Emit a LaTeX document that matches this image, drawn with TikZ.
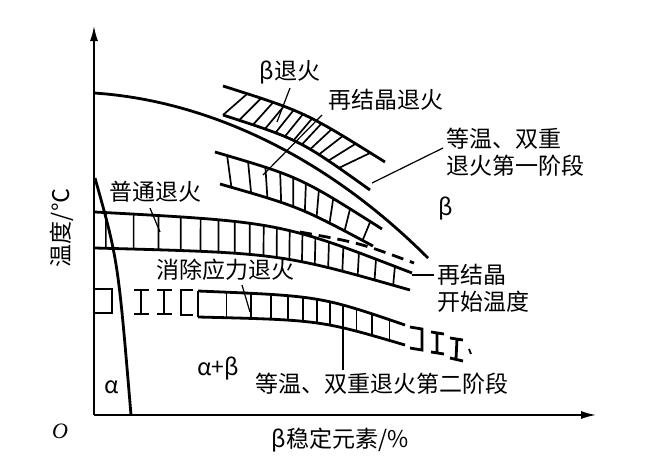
\documentclass[tikz,border=0pt]{standalone}
\usepackage{fontspec}
\setmainfont{Liberation Serif}
\newfontfamily\cjk{Noto Sans CJK SC}
\usetikzlibrary{arrows.meta}
\begin{document}
\begin{tikzpicture}[x=1pt,y=1pt,
  ln/.style={line width=2.8pt},
  tk/.style={line width=1.7pt},
  lab/.style={font=\cjk\fontsize{23}{27}\selectfont, inner sep=0pt},
  ld/.style={line width=1.2pt}]
\useasboundingbox (0,0) rectangle (666,-461);
% axes
\coordinate (O) at (94,-415);
\coordinate (Ytop) at (94,-26);
\coordinate (Xend) at (596,-415);
\draw[line width=1.5pt,-{Latex[length=15pt,width=8pt]}] (O) -- (Ytop);
\draw[line width=1.5pt,-{Latex[length=15pt,width=8pt]}] (O) -- (Xend);
% transus
\draw[ln] (94,-93) .. controls (200,-100) and (320,-150) .. (428,-258);
% alpha boundary
\draw[ln] (95,-178) .. controls (118,-260) .. (131,-415);
% hatched band
\draw[ln] (223,-86) .. controls (305,-112) .. (385,-162);
\draw[ln] (223,-115) .. controls (300,-140) .. (370,-190);
\foreach \t in {0.0,0.075,...,0.89}{
  \path (223,-115) .. controls (300,-140) .. (370,-190) coordinate[pos=\t] (hl);
  \pgfmathsetmacro\s{\t+0.11}
  \path (223,-86) .. controls (305,-112) .. (385,-162) coordinate[pos=\s] (hu);
  \draw[tk] (hl) -- (hu);}
% recrystallisation band
\draw[ln] (215,-152) .. controls (300,-177) .. (382,-229);
\draw[ln] (220,-184) .. controls (300,-207) .. (373,-246);
\foreach \t in {0.05,0.15,...,0.99}{
  \path (215,-152) .. controls (300,-177) .. (382,-229) coordinate[pos=\t] (ru);
  \path (220,-184) .. controls (300,-207) .. (373,-246) coordinate[pos=\t] (rl);
  \draw[tk] (ru) -- (rl);}
% ordinary annealing band
\draw[ln] (95,-212) .. controls (280,-222) .. (412,-273);
\draw[ln] (95,-248) .. controls (280,-253) .. (410,-290);
\foreach \t in {0.02,0.075,...,0.99}{
  \path (95,-212) .. controls (280,-222) .. (412,-273) coordinate[pos=\t] (pu);
  \path (95,-248) .. controls (280,-253) .. (410,-290) coordinate[pos=\t] (pl);
  \draw[tk] (pu) -- (pl);}
% dashed line
\draw[ln,dash pattern=on 12pt off 7pt] (300,-232) .. controls (360,-243) .. (414,-263);
% stress relief band
\draw[ln] (198,-291) .. controls (320,-296) .. (405,-325);
\draw[ln] (198,-317) .. controls (320,-320) .. (405,-345);
\foreach \t in {0,0.085,...,1.01}{
  \path (198,-291) .. controls (320,-296) .. (405,-325) coordinate[pos=\t] (su);
  \path (198,-317) .. controls (320,-320) .. (405,-345) coordinate[pos=\t] (sl);
  \draw[tk] (su) -- (sl);}
% broken left part
\draw[ln] (95,-289) -- (112,-289) -- (112,-313) -- (95,-313);
\draw[ln] (134,-290) -- (149,-290) (141,-290) -- (141,-314) (134,-314) -- (149,-314);
\draw[ln] (157,-290) -- (172,-290) (164,-290) -- (164,-314) (157,-314) -- (172,-314);
\draw[ln] (193,-290) -- (181,-290) -- (181,-315) -- (193,-315);
% broken right tail
\draw[ln] (410,-327) -- (422,-329) -- (422,-350) -- (410,-348);
\draw[ln] (431,-332) -- (444,-334) (437,-333) -- (437,-353) (431,-352) -- (444,-354);
\draw[ln] (450,-338) -- (463,-340) (457,-339) -- (456,-359) (450,-358) -- (463,-361);
\draw[line width=1.8pt] (469,-349) -- (471,-354);
% labels
\node[lab] (bA) at (290,-72) {β退火};
\node[lab] (rA) at (386,-100) {再结晶退火};
\node[lab,align=left,anchor=west] (i1) at (446,-152) {等温、双重\\退火第一阶段};
\node[lab] (beta) at (446,-208) {β};
\node[lab] (pA) at (155,-192) {普通退火};
\node[lab,align=left,anchor=west] (rs) at (437,-288) {再结晶\\开始温度};
\node[lab] (sA) at (225,-270) {消除应力退火};
\node[lab] (ab) at (218,-368) {α+β};
\node[lab] (i2) at (382,-384) {等温、双重退火第二阶段};
\node[lab] (al) at (112,-387) {α};
\node[font=\itshape\fontsize{22}{26}\selectfont] (o) at (60,-431) {O};
\node[lab] (xl) at (340,-440) {β稳定元素/\%};
\node[lab,rotate=90] (yl) at (62,-228) {温度/℃};
% leaders
\coordinate (bA1) at (290,-88); \coordinate (bA2) at (277,-122);
\draw[ld] (bA1) -- (bA2);
\coordinate (rA1) at (322,-115); \coordinate (rA2) at (263,-175);
\draw[ld] (rA1) -- (rA2);
\coordinate (i1a) at (443,-148); \coordinate (i1b) at (372,-183);
\draw[ld] (i1a) -- (i1b);
\coordinate (pA1) at (150,-208); \coordinate (pA2) at (160,-232);
\draw[ld] (pA1) -- (pA2);
\coordinate (rs1) at (434,-275); \coordinate (rs2) at (412,-275);
\draw[ld] (rs1) -- (rs2);
\coordinate (sA1) at (242,-285); \coordinate (sA2) at (250,-312);
\draw[ld] (sA1) -- (sA2);
\coordinate (i2a) at (343,-325); \coordinate (i2b) at (343,-370);
\draw[ld] (i2a) -- (i2b);
\end{tikzpicture}
\end{document}
